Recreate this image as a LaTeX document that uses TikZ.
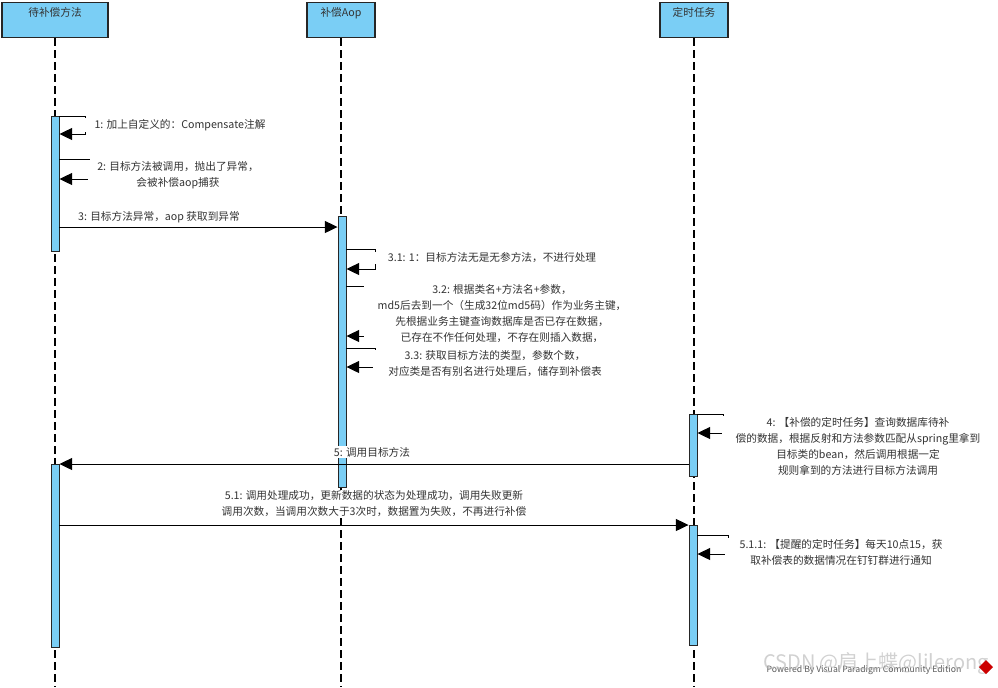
\documentclass[tikz,border=0pt]{standalone}
\usepackage{fontspec}
\setmainfont{Noto Sans CJK SC}
\usetikzlibrary{arrows.meta}
\definecolor{vpblue}{RGB}{122,206,245}

\begin{document}
\begin{tikzpicture}[x=0.75pt,y=-0.75pt,
  font=\fontsize{8}{12}\selectfont,>={Triangle[length=9.5pt,width=9pt]},
  head/.style={draw=black!85,line width=0.9pt,fill=vpblue,anchor=north,text=black!80,
    minimum height=26.25pt,inner ysep=2pt,text height=8.5pt,text depth=13.75pt},
  bar/.style={draw=black!85,line width=0.7pt,fill=vpblue,anchor=north,
    minimum width=6pt,inner sep=0pt},
  life/.style={line width=0.8pt,dash pattern=on 6pt off 3pt},
  msg/.style={line width=0.75pt,->},
  lbl/.style={fill=white,align=center,text=black!80,inner ysep=1pt,inner xsep=2pt},
]
\def\px{0.75pt}
\useasboundingbox (0,0) rectangle (998,687);

% ============================================================
% Lifelines
% ============================================================
\node[head,minimum width=106*\px] (hA) at (55,2) {待补偿方法};
\node[head,minimum width=68*\px] (hB) at (341,2) {补偿Aop};
\node[head,minimum width=68*\px] (hC) at (694,2) {定时任务};

\coordinate (bot) at (0,687);
\draw[life] (hA.south) -- (hA.south |- bot);
\draw[life] (hB.south) -- (hB.south |- bot);
\draw[life] (hC.south) -- (hC.south |- bot);

% Activation bars
\node[bar,minimum height=135*\px] (bA1) at (55,116) {};
\node[bar,minimum height=271*\px] (bB) at (342,216) {};
\node[bar,minimum height=62*\px] (bC1) at (693,414) {};
\node[bar,minimum height=183*\px] (bA2) at (55,464) {};
\node[bar,minimum height=120*\px] (bC2) at (693,525) {};

% ============================================================
% Messages
% ============================================================
\coordinate (y1a) at (0,116);   \coordinate (y1b) at (0,134);
\coordinate (y2a) at (0,159);   \coordinate (y2b) at (0,179);
\coordinate (y3) at (0,227);
\coordinate (y31a) at (0,249);  \coordinate (y31b) at (0,269);
\coordinate (y32a) at (0,286);  \coordinate (y32b) at (0,336);
\coordinate (y33a) at (0,348);  \coordinate (y33b) at (0,367);
\coordinate (y4a) at (0,414);   \coordinate (y4b) at (0,433);
\coordinate (y5) at (0,464);
\coordinate (y51) at (0,525);
\coordinate (y511a) at (0,535); \coordinate (y511b) at (0,554);

% self calls
\draw[msg] (bA1.east |- y1a) -- ++(26,0) |- (bA1.east |- y1b);
\draw[msg] (bA1.east |- y2a) -- ++(30,0) |- (bA1.east |- y2b);
\draw[msg] (bB.east |- y31a) -- ++(29,0) |- (bB.east |- y31b);
\draw[msg] (bB.east |- y32a) -- ++(24,0) |- (bB.east |- y32b);
\draw[msg] (bB.east |- y33a) -- ++(29,0) |- (bB.east |- y33b);
\draw[msg] (bC1.east |- y4a) -- ++(26,0) |- (bC1.east |- y4b);
\draw[msg] (bC2.east |- y511a) -- ++(31,0) |- (bC2.east |- y511b);

% calls between lifelines
\draw[msg] (bA1.east |- y3) -- (bB.west |- y3);
\draw[msg] (bC1.west |- y5) -- (bA2.east |- y5);
\draw[msg] (bA2.east |- y51) -- (bC2.west |- y51);

% ============================================================
% Labels
% ============================================================
\node[lbl,inner xsep=8.5pt] (t1) at (180,125) {1: 加上自定义的：Compensate注解};
\node[lbl,inner xsep=7pt] (t2) at (178,175)
  {2: 目标方法被调用，抛出了异常，\\会被补偿aop捕获};
\node[lbl] (t3) at (159,217) {3: 目标方法异常，aop 获取到异常};
\node[lbl,inner xsep=11pt] (t31) at (492,258)
  {3.1: 1：目标方法无是无参方法，不进行处理};
\node[lbl,inner xsep=10pt] (t32) at (502,314)
  {3.2: 根据类名+方法名+参数，\\md5后去到一个（生成32位md5码）作为业务主键，\\
   先根据业务主键查询数据库是否已存在数据，\\已存在不作任何处理，不存在则插入数据，};
\node[lbl,inner xsep=11.5pt] (t33) at (495,364)
  {3.3: 获取目标方法的类型，参数个数，\\对应类是否有别名进行处理后，储存到补偿表};
\node[lbl,inner xsep=10pt] (t4) at (858,446)
  {4: 【补偿的定时任务】查询数据库待补\\偿的数据，根据反射和方法参数匹配从spring里拿到\\
   目标类的bean，然后调用根据一定\\规则拿到的方法进行目标方法调用};
\node[lbl] (t5) at (372,452) {5: 调用目标方法};
\node[lbl] (t51) at (374,504)
  {5.1: 调用处理成功，更新数据的状态为处理成功，调用失败更新\\
   调用次数，当调用次数大于3次时，数据置为失败，不再进行补偿};
\node[lbl,inner xsep=11pt] (t511) at (841,552)
  {5.1.1: 【提醒的定时任务】每天10点15，获\\取补偿表的数据情况在钉钉群进行通知};

% watermark
\node[font=\fontsize{6.5}{8}\selectfont,text=black!65] (pwr) at (864,670)
  {Powered By Visual Paradigm Community Edition};
\node[font=\fontsize{15}{18}\selectfont,text=black!30,opacity=0.6] (csdn) at (876,663)
  {CSDN @肩上蝶@lilerong};
\fill[red!80!black] (986,660) -- (993,667) -- (986,674) -- (979,667) -- cycle;

\end{tikzpicture}
\end{document}
